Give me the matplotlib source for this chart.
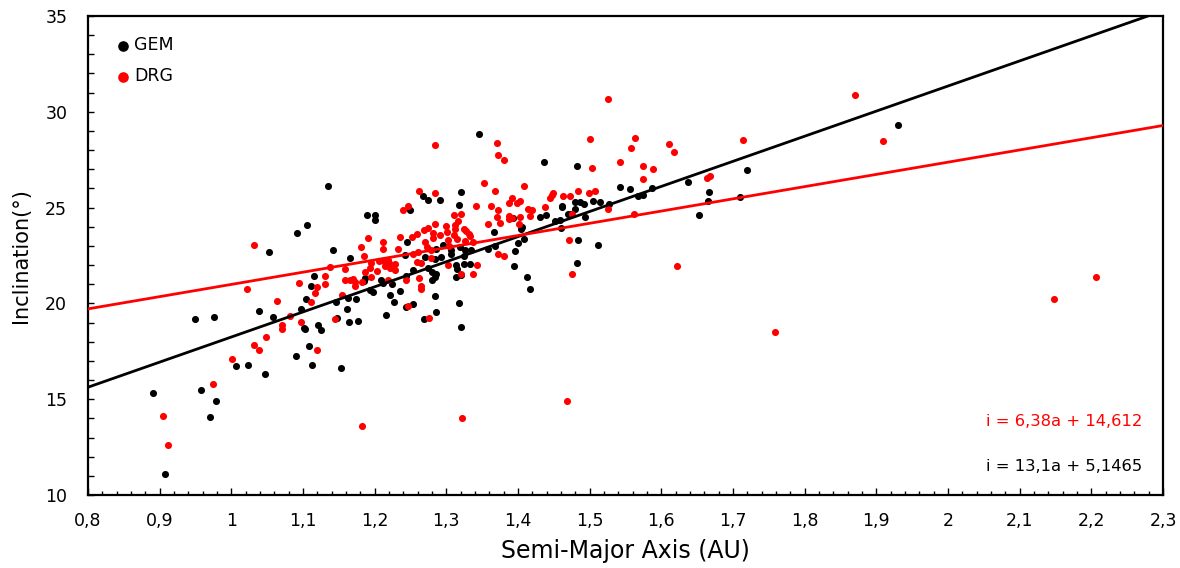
import numpy as np
import matplotlib
matplotlib.use("Agg")
import matplotlib.pyplot as plt
from matplotlib.ticker import FuncFormatter, MultipleLocator

# GEM (black) semi-major axis (AU) and inclination (deg)
gem_a = [1.106, 1.091, 1.052, 1.116, 1.111, 1.104, 1.038, 1.097, 1.058, 0.949,
         0.976, 1.101, 1.103, 1.121, 1.125, 1.108, 1.007, 1.023, 1.047, 1.090,
         1.112, 0.890, 0.957, 0.978, 0.970, 0.908, 1.135, 1.267, 1.274, 1.249,
         1.189, 1.201, 1.200, 1.245, 1.142, 1.242, 1.166, 1.270, 1.284, 1.253,
         1.274, 1.187, 1.185, 1.209, 1.211, 1.224, 1.243, 1.280, 1.284, 1.194,
         1.197, 1.235, 1.221, 1.163, 1.174, 1.146, 1.227, 1.162, 1.243, 1.284,
         1.253, 1.148, 1.164, 1.177, 1.216, 1.269, 1.285, 1.153, 1.345, 1.436,
         1.321, 1.291, 1.317, 1.430, 1.439, 1.393, 1.406, 1.404, 1.367, 1.409,
         1.400, 1.452, 1.296, 1.319, 1.358, 1.368, 1.285, 1.307, 1.306, 1.326,
         1.335, 1.396, 1.293, 1.325, 1.314, 1.324, 1.333, 1.394, 1.280, 1.286,
         1.315, 1.313, 1.413, 1.321, 1.417, 1.318, 1.321, 1.482, 1.719, 1.637,
         1.667, 1.665, 1.710, 1.653, 1.542, 1.556, 1.568, 1.574, 1.587, 1.461,
         1.462, 1.479, 1.487, 1.492, 1.480, 1.504, 1.515, 1.527, 1.470, 1.474,
         1.493, 1.458, 1.460, 1.483, 1.511, 1.482, 1.930]
gem_i = [24.07, 23.68, 22.69, 21.43, 20.93, 20.23, 19.62, 19.69, 19.27, 19.17,
         19.29, 18.74, 18.68, 18.86, 18.61, 17.77, 16.73, 16.78, 16.33, 17.24,
         16.78, 15.34, 15.46, 14.92, 14.09, 11.09, 26.12, 25.63, 25.39, 24.85,
         24.62, 24.62, 24.36, 23.19, 22.81, 22.53, 22.36, 22.42, 22.32, 21.73,
         21.83, 21.33, 21.15, 21.24, 21.07, 21.00, 21.43, 21.21, 21.36, 20.68,
         20.62, 20.63, 20.46, 20.28, 20.21, 20.06, 20.06, 19.73, 19.81, 20.37,
         19.99, 19.22, 19.01, 19.06, 19.39, 19.18, 19.53, 16.61, 28.85, 27.36,
         25.84, 25.39, 25.13, 24.53, 24.60, 24.46, 23.99, 23.89, 23.73, 23.35,
         23.14, 24.29, 23.05, 22.97, 22.83, 23.02, 22.84, 22.77, 22.60, 22.77,
         22.81, 22.76, 22.41, 22.46, 21.99, 22.06, 22.06, 21.94, 21.64, 21.56,
         21.82, 21.36, 21.36, 21.47, 20.74, 20.02, 18.77, 27.18, 26.97, 26.36,
         25.80, 25.37, 25.56, 24.60, 26.10, 25.98, 25.60, 25.68, 26.03, 25.11,
         25.04, 25.28, 25.27, 25.21, 24.93, 25.32, 25.30, 25.21, 24.66, 24.69,
         24.53, 24.33, 23.91, 23.30, 23.07, 22.11, 29.31]

# DRG (red)
drg_a = [1.031, 1.022, 1.131, 1.131, 1.095, 1.120, 1.117, 1.111, 1.064, 1.082,
         1.071, 1.070, 1.097, 1.049, 1.032, 1.039, 1.120, 1.001, 0.974, 0.905,
         0.912, 1.262, 1.284, 1.246, 1.240, 1.284, 1.275, 1.269, 1.282, 1.259,
         1.281, 1.190, 1.212, 1.236, 1.252, 1.270, 1.181, 1.211, 1.232, 1.273,
         1.253, 1.260, 1.185, 1.206, 1.213, 1.218, 1.220, 1.228, 1.195, 1.259,
         1.264, 1.278, 1.138, 1.158, 1.193, 1.187, 1.203, 1.215, 1.221, 1.229,
         1.158, 1.165, 1.170, 1.173, 1.182, 1.172, 1.195, 1.219, 1.243, 1.262,
         1.265, 1.264, 1.154, 1.247, 1.144, 1.276, 1.182, 1.284, 1.371, 1.372,
         1.381, 1.353, 1.409, 1.368, 1.449, 1.447, 1.444, 1.391, 1.388, 1.399,
         1.403, 1.341, 1.362, 1.372, 1.414, 1.419, 1.438, 1.320, 1.310, 1.388,
         1.391, 1.371, 1.403, 1.417, 1.387, 1.375, 1.402, 1.316, 1.312, 1.300,
         1.312, 1.324, 1.328, 1.358, 1.331, 1.291, 1.301, 1.310, 1.315, 1.326,
         1.333, 1.302, 1.304, 1.337, 1.279, 1.372, 1.380, 1.302, 1.343, 1.321,
         1.337, 1.322, 1.526, 1.500, 1.563, 1.558, 1.611, 1.618, 1.714, 1.503,
         1.542, 1.574, 1.588, 1.574, 1.664, 1.668, 1.463, 1.472, 1.484, 1.499,
         1.508, 1.525, 1.475, 1.562, 1.471, 1.475, 1.622, 1.468, 1.870, 1.909,
         1.758, 2.148, 2.207]
drg_i = [23.07, 20.77, 21.45, 21.03, 21.07, 20.86, 20.56, 20.07, 20.13, 19.33,
         18.89, 18.68, 19.03, 18.24, 17.83, 17.59, 17.57, 17.08, 15.79, 14.12,
         12.62, 25.86, 25.74, 25.11, 24.90, 24.15, 23.94, 23.82, 23.70, 23.61,
         23.44, 23.44, 23.19, 23.49, 23.47, 23.23, 22.95, 22.84, 22.84, 22.92,
         22.57, 22.69, 22.45, 22.20, 22.22, 22.29, 22.11, 22.04, 22.13, 22.18,
         22.11, 22.37, 21.92, 21.80, 21.87, 21.66, 21.68, 21.94, 21.85, 21.73,
         21.21, 21.24, 21.27, 21.12, 21.12, 20.89, 21.38, 21.21, 21.21, 21.31,
         20.89, 20.75, 20.46, 19.88, 19.17, 19.24, 13.58, 28.26, 28.35, 27.77,
         27.46, 26.31, 26.13, 25.86, 25.75, 25.68, 25.48, 25.48, 25.25, 25.23,
         25.35, 25.06, 25.06, 24.90, 24.95, 24.90, 25.04, 24.69, 24.60, 24.55,
         24.48, 24.53, 24.53, 24.57, 24.41, 24.22, 24.17, 24.31, 24.08, 24.04,
         23.86, 23.87, 23.77, 24.12, 23.63, 23.59, 23.71, 23.59, 23.35, 23.28,
         23.51, 23.30, 22.98, 23.21, 22.79, 22.60, 22.45, 22.03, 22.03, 21.56,
         21.52, 14.01, 30.68, 28.59, 28.64, 28.10, 28.31, 27.89, 28.52, 27.06,
         27.36, 27.15, 27.02, 26.48, 26.52, 26.66, 25.60, 25.60, 25.86, 25.77,
         25.89, 24.93, 24.67, 24.66, 23.30, 21.54, 21.94, 14.90, 30.87, 28.47,
         18.49, 20.21, 21.36]

# trendline coefficients (slope, intercept)
gem_fit = (13.1, 5.1465)
drg_fit = (6.38, 14.612)
gem_label = "i = 13,1a + 5,1465"
drg_label = "i = 6,38a + 14,612"

fig = plt.figure(figsize=(11.8, 5.68), dpi=100)
ax = fig.add_axes([0.0746, 0.1285, 0.911, 0.8433])

ax.scatter(gem_a, gem_i, s=26, color="black", zorder=3, label="GEM", linewidths=0)
ax.scatter(drg_a, drg_i, s=26, color="#ff0000", zorder=4, label="DRG", linewidths=0)

xs = np.array([0.8, 2.3])
ax.plot(xs, gem_fit[0] * xs + gem_fit[1], color="black", lw=2, zorder=5)
ax.plot(xs, drg_fit[0] * xs + drg_fit[1], color="#ff0000", lw=2, zorder=5)

ax.set_xlim(0.8, 2.3)
ax.set_ylim(10, 35)
ax.xaxis.set_major_locator(MultipleLocator(0.1))
ax.xaxis.set_minor_locator(MultipleLocator(0.02))
ax.yaxis.set_major_locator(MultipleLocator(5))
ax.yaxis.set_minor_locator(MultipleLocator(1))
ax.xaxis.set_major_formatter(FuncFormatter(lambda v, p: f"{round(v, 1):g}".replace(".", ",")))
ax.tick_params(axis="both", which="both", direction="in", labelsize=12.5, colors="black")
ax.tick_params(axis="x", which="major", length=5, width=1, pad=12)
ax.tick_params(axis="x", which="minor", length=3, width=1)
ax.tick_params(axis="y", which="major", length=4, width=1, pad=15)
ax.tick_params(axis="y", which="minor", length=4, width=1)
for sp in ax.spines.values():
    sp.set_linewidth(1.6)
    sp.set_color("black")

ax.set_xlabel("Semi-Major Axis (AU)", fontsize=17, labelpad=7)
ax.set_ylabel("Inclination(°)", fontsize=15, labelpad=10)

ax.legend(loc="upper left", bbox_to_anchor=(0.012, 0.99), frameon=False,
          fontsize=12.5, handlelength=0.8, handletextpad=0.2,
          labelspacing=0.75, markerscale=1.5)

ax.text(0.981, 0.153, drg_label, transform=ax.transAxes, ha="right", va="center",
        fontsize=11.8, color="#ff0000")
ax.text(0.981, 0.059, gem_label, transform=ax.transAxes, ha="right", va="center",
        fontsize=11.8, color="black")

fig.savefig("out.png", dpi=100)
